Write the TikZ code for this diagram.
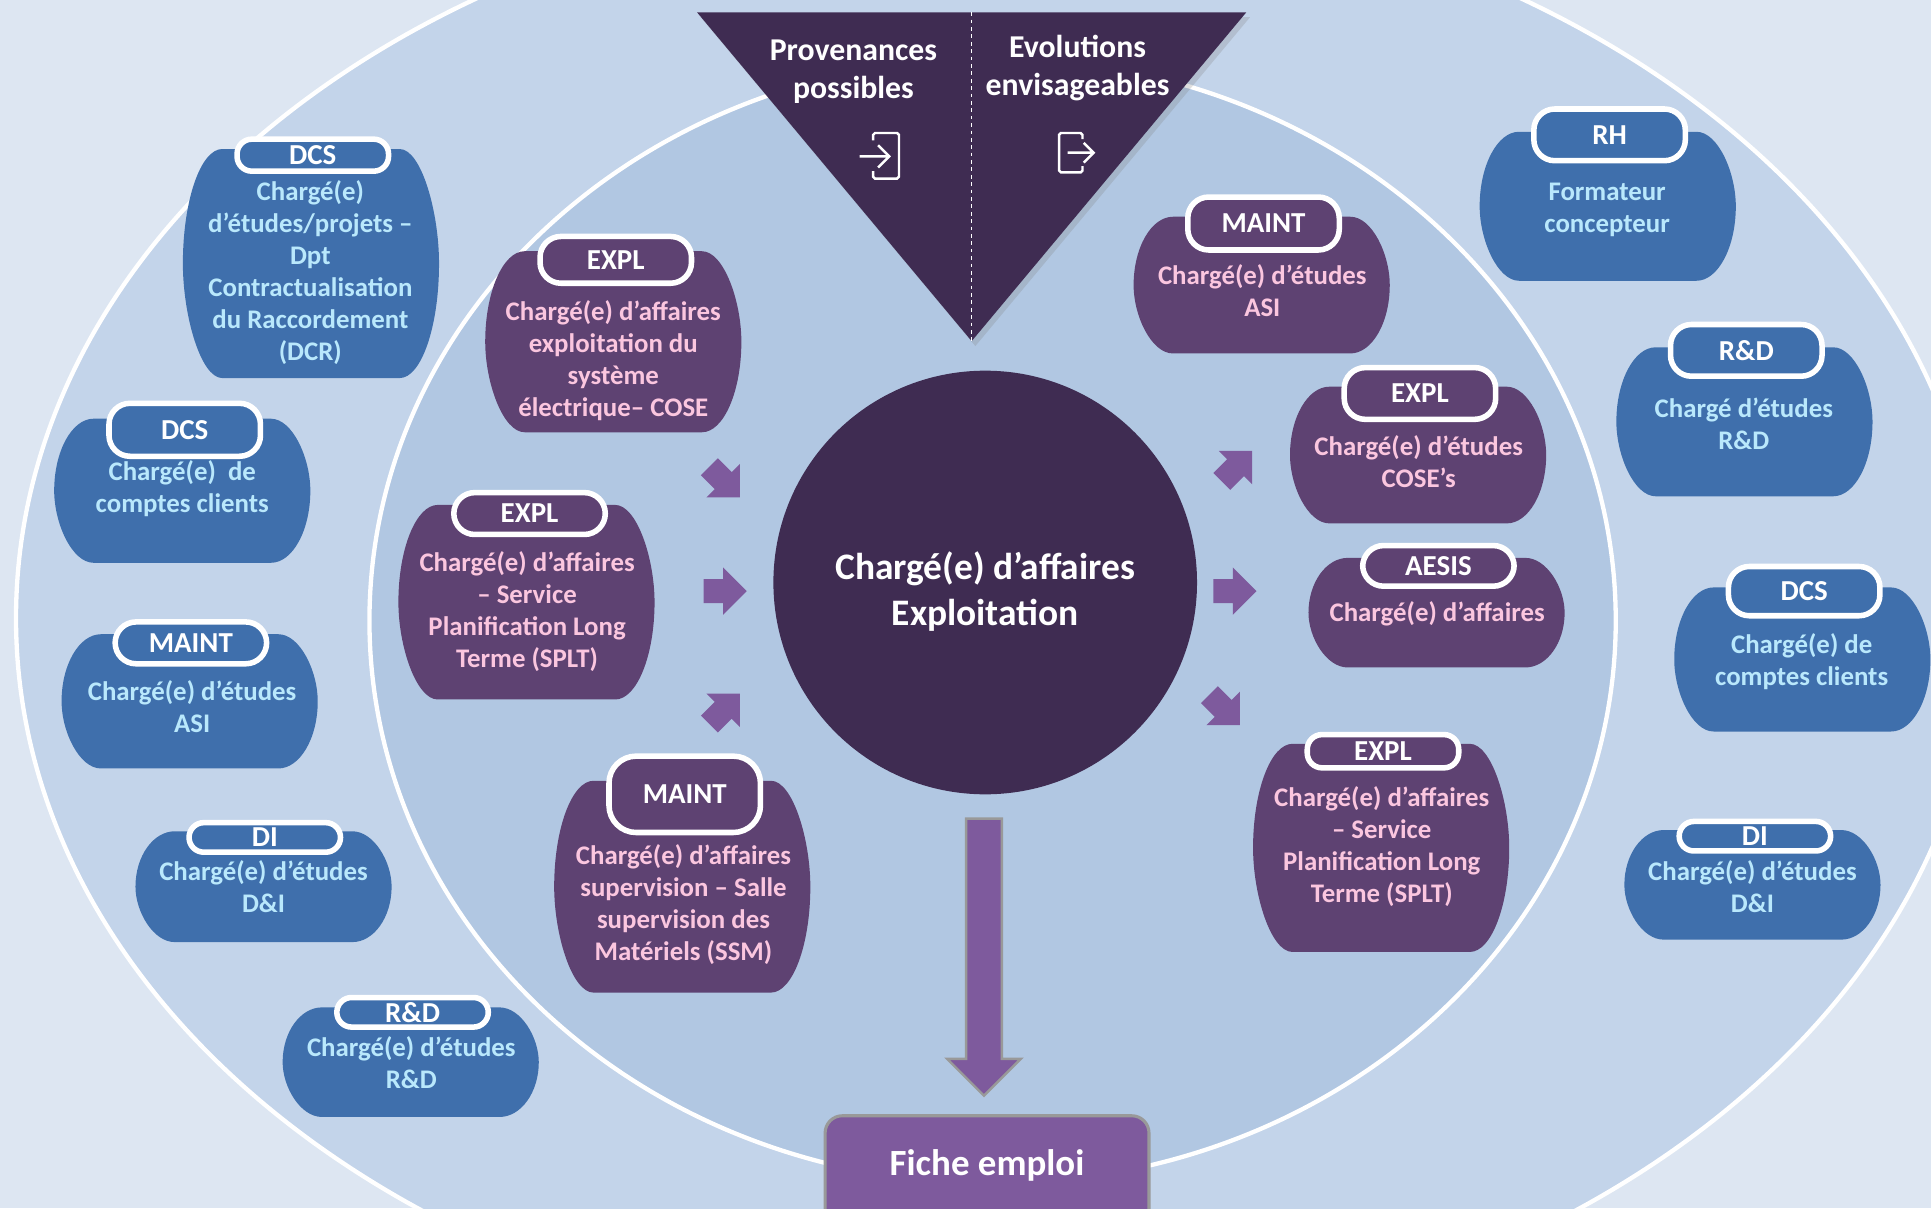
\documentclass[tikz,border=0pt]{standalone}
\usepackage{fontspec}
\setmainfont{Carlito}
\usepackage{xcolor}
\usetikzlibrary{calc,shadows,shapes.arrows,shapes.geometric}
\definecolor{bgpale}{HTML}{DDE6F2}
\definecolor{outerblue}{HTML}{C3D4EA}
\definecolor{innerblue}{HTML}{B1C7E2}
\definecolor{cardblue}{HTML}{3F6FAC}
\definecolor{skytext}{HTML}{B9E8FC}
\definecolor{cardplum}{HTML}{5E4272}
\definecolor{pinktext}{HTML}{FBC6DF}
\definecolor{darkplum}{HTML}{3F2C52}
\definecolor{arrplum}{HTML}{7E5A9D}
\newcommand{\blobfill}[1]{\fill[#1]
  ([xshift=32pt]path picture bounding box.north west)
  .. controls ([xshift=14.4pt]path picture bounding box.north west) and ($(path picture bounding box.north west)!0.45!(path picture bounding box.west)$) .. (path picture bounding box.west)
  .. controls ($(path picture bounding box.west)!0.45!(path picture bounding box.south west)$) and ([xshift=14.4pt]path picture bounding box.south west) .. ([xshift=32pt]path picture bounding box.south west)
  -- ([xshift=-32pt]path picture bounding box.south east)
  .. controls ([xshift=-14.4pt]path picture bounding box.south east) and ($(path picture bounding box.south east)!0.45!(path picture bounding box.east)$) .. (path picture bounding box.east)
  .. controls ($(path picture bounding box.east)!0.45!(path picture bounding box.north east)$) and ([xshift=-14.4pt]path picture bounding box.north east) .. ([xshift=-32pt]path picture bounding box.north east)
  -- cycle;}

\begin{document}
\begin{tikzpicture}[x=1pt, y=-1pt,
                    bluecard/.style={rectangle, inner sep = 0, minimum width = 208, path picture={\blobfill{cardblue}}},
                    plumcard/.style={rectangle, inner sep = 0, minimum width = 208, path picture={\blobfill{cardplum}}},
                    bluetag/.style={rectangle, align = center, draw = white, fill = cardblue, line width = 4.5,
                    text = white, font = \fontsize{23.5}{26}\selectfont\bfseries, inner sep = 0,
                    minimum width = 123, rounded corners = 17},
                    plumtag/.style={bluetag, fill = cardplum},
                    thintag/.style={rounded corners = 12},
                    bluetext/.style={align = center, text = skytext, inner sep = 0, font = \fontsize{21.8}{26}\selectfont\bfseries},
                    plumtext/.style={align = center, text = pinktext, inner sep = 0, font = \fontsize{21.8}{26}\selectfont\bfseries},
                    headtext/.style={align = center, text = white, inner sep = 0, font = \fontsize{25.8}{31}\selectfont\bfseries},
                    smallarr/.style={single arrow, fill = arrplum, inner xsep = 0, inner ysep = 9.5, minimum width = 38, minimum height = 35,
                    single arrow head extend = 9.5},
                    iconline/.style={draw = white, line width = 2, rounded corners = 1.5}]

\useasboundingbox (0,0) rectangle (1568,981);
\clip (0,0) rectangle (1568,981);
\fill[bgpale] (0,0) rectangle (1568,981);
\node[ellipse, draw = white, fill = outerblue, line width = 3.5, minimum width = 1596, minimum height = 1188, inner sep = 0] (outerring) at (811,502) {};
\node[ellipse, draw = white, fill = innerblue, line width = 3.5, minimum width = 1012, minimum height = 914, inner sep = 0] (innerring) at (806,504) {};

% sommet
\fill[darkplum, drop shadow={shadow xshift=3pt, shadow yshift=-4pt, opacity=0.25}] (566,10) -- (1012,10) -- (789,277) -- cycle;
\draw[white, dashed, line width = 1] (789,10) -- (789,277);
\node[headtext] (provenances) at (693,58) {Provenances\\possibles};
\node[headtext] (evolutions) at (875,55) {Evolutions\\envisageables};
\draw[iconline] (709,114) -- (709,108) -- (730,108) -- (730,145) -- (709,145) -- (709,139);
\draw[white, line width = 2] (698,127) -- (722,127) (713,118) -- (722,127) -- (713,136);
\draw[iconline] (879,113) -- (879,108) -- (860,108) -- (860,140) -- (879,140) -- (879,135);
\draw[white, line width = 2] (867,124) -- (888,124) (880,116) -- (888,124) -- (880,132);

% centre
\node[circle, fill = darkplum, minimum size = 344, inner sep = 0] (poste) at (800,473) {};
\node[align = center, text = white, inner sep = 0, font = \fontsize{30.4}{37}\selectfont\bfseries] (postetext) at (800,480.5) {Chargé(e) d’affaires\\Exploitation};

% colonne gauche bleue
\node[bluecard, minimum height = 186] (dcsone) at (252.5,214) {};
\node[bluetag, thintag, minimum height = 26] (dcsonetag) at (254,126) {DCS};
\node[bluetext] (dcsonetext) at (252,221) {Chargé(e)\\d’études/projets –\\Dpt\\Contractualisation\\du Raccordement\\(DCR)};

\node[bluecard, minimum height = 117] (dcstwo) at (148,398.5) {};
\node[bluetag, minimum height = 43] (dcstwotag) at (150,349) {DCS};
\node[bluetext] (dcstwotext) at (148,397) {Chargé(e)\ \ de\\comptes clients};

\node[bluecard, minimum height = 109] (maintblue) at (154,569.5) {};
\node[bluetag, minimum height = 34] (maintbluetag) at (155,522) {MAINT};
\node[bluetext] (maintbluetext) at (156,573.5) {Chargé(e) d’études\\ASI};

\node[bluecard, minimum height = 90] (dileft) at (214,720) {};
\node[bluetag, thintag, minimum height = 24] (dilefttag) at (215,680) {DI};
\node[bluetext] (dilefttext) at (214,720) {Chargé(e) d’études\\D\&I};

\node[bluecard, minimum height = 89] (rdleft) at (333.5,862.5) {};
\node[bluetag, thintag, minimum height = 24] (rdlefttag) at (335,822) {R\&D};
\node[bluetext] (rdlefttext) at (334,862.5) {Chargé(e) d’études\\R\&D};

% colonne droite bleue
\node[bluecard, minimum height = 121] (rhright) at (1305.5,167.5) {};
\node[bluetag, minimum height = 42] (rhrighttag) at (1307,109.5) {RH};
\node[bluetext] (rhrighttext) at (1305,170.5) {Formateur\\concepteur};

\node[bluecard, minimum height = 121] (rdright) at (1416.5,342.5) {};
\node[bluetag, minimum height = 42] (rdrighttag) at (1418,284.5) {R\&D};
\node[bluetext] (rdrighttext) at (1416,344) {Chargé d’études\\R\&D};

\node[bluecard, minimum height = 117] (dcsright) at (1463.5,535.5) {};
\node[bluetag, minimum height = 40] (dcsrighttag) at (1465,480) {DCS};
\node[bluetext] (dcsrighttext) at (1463,537.5) {Chargé(e) de\\comptes clients};

\node[bluecard, minimum height = 89] (diright) at (1423,718.5) {};
\node[bluetag, thintag, minimum height = 24] (dirighttag) at (1425,679) {DI};
\node[bluetext] (dirighttext) at (1423,720) {Chargé(e) d’études\\D\&I};

% cartes prune gauche
\node[plumcard, minimum height = 147] (explone) at (498,277.5) {};
\node[plumtag, minimum height = 38] (explonetag) at (500,211) {EXPL};
\node[plumtext] (explonetext) at (498,292.5) {Chargé(e) d’affaires\\exploitation du\\système\\électrique– COSE};

\node[plumcard, minimum height = 158] (expltwo) at (427.5,489) {};
\node[plumtag, minimum height = 34] (expltwotag) at (430,417) {EXPL};
\node[plumtext] (expltwotext) at (428,496.5) {Chargé(e) d’affaires\\– Service\\Planification Long\\Terme (SPLT)};

\node[plumcard, minimum height = 172] (maintplum) at (554,720) {};
\node[plumtag, minimum height = 62, rounded corners = 22] (maintplumtag) at (556,645) {MAINT};
\node[plumtext] (maintplumtext) at (555,734.5) {Chargé(e) d’affaires\\supervision – Salle\\supervision des\\Matériels (SSM)};

% cartes prune droite
\node[plumcard, minimum height = 111] (maintright) at (1024.5,231.5) {};
\node[plumtag, minimum height = 43] (maintrighttag) at (1026,181.5) {MAINT};
\node[plumtext] (maintrighttext) at (1025,236) {Chargé(e) d’études\\ASI};

\node[plumcard, minimum height = 111] (explthree) at (1151.5,369.5) {};
\node[plumtag, minimum height = 42] (explthreetag) at (1153,319.5) {EXPL};
\node[plumtext] (explthreetext) at (1152,374.5) {Chargé(e) d’études\\COSE’s};

\node[plumcard, minimum height = 89] (aesis) at (1166.5,497.5) {};
\node[plumtag, minimum height = 33] (aesistag) at (1168,459.5) {AESIS};
\node[plumtext] (aesistext) at (1167,498.5) {Chargé(e) d’affaires};

\node[plumcard, minimum height = 169] (explfour) at (1121.5,688.5) {};
\node[plumtag, thintag, minimum height = 27] (explfourtag) at (1123,610) {EXPL};
\node[plumtext] (explfourtext) at (1122,687.5) {Chargé(e) d’affaires\\– Service\\Planification Long\\Terme (SPLT)};

% fleches
\node[smallarr, rotate = -45] (arrleftone) at (585,388) {};
\node[smallarr] (arrlefttwo) at (584,480) {};
\node[smallarr, rotate = 45] (arrleftthree) at (585,579) {};
\node[smallarr, rotate = 45] (arrrightone) at (1001,382) {};
\node[smallarr] (arrrighttwo) at (998,480) {};
\node[smallarr, rotate = -45] (arrrightthree) at (991,573) {};

\node[single arrow, rotate = -90, fill = arrplum, draw = gray!80, line width = 2, inner xsep = 0, inner ysep = 13.5, minimum width = 58, minimum height = 225,
single arrow head extend = 15.5] (downarr) at (799,770) {};

\node[rectangle, fill = arrplum, draw = gray!80, line width = 2.5, rounded corners = 14, minimum width = 263, minimum height = 90, inner sep = 0] (fiche) at (801.5,951) {};
\node[text = white, inner sep = 0, font = \fontsize{30}{34}\selectfont\bfseries] (fichetext) at (801.5,946.5) {Fiche emploi};
\end{tikzpicture}
\end{document}
